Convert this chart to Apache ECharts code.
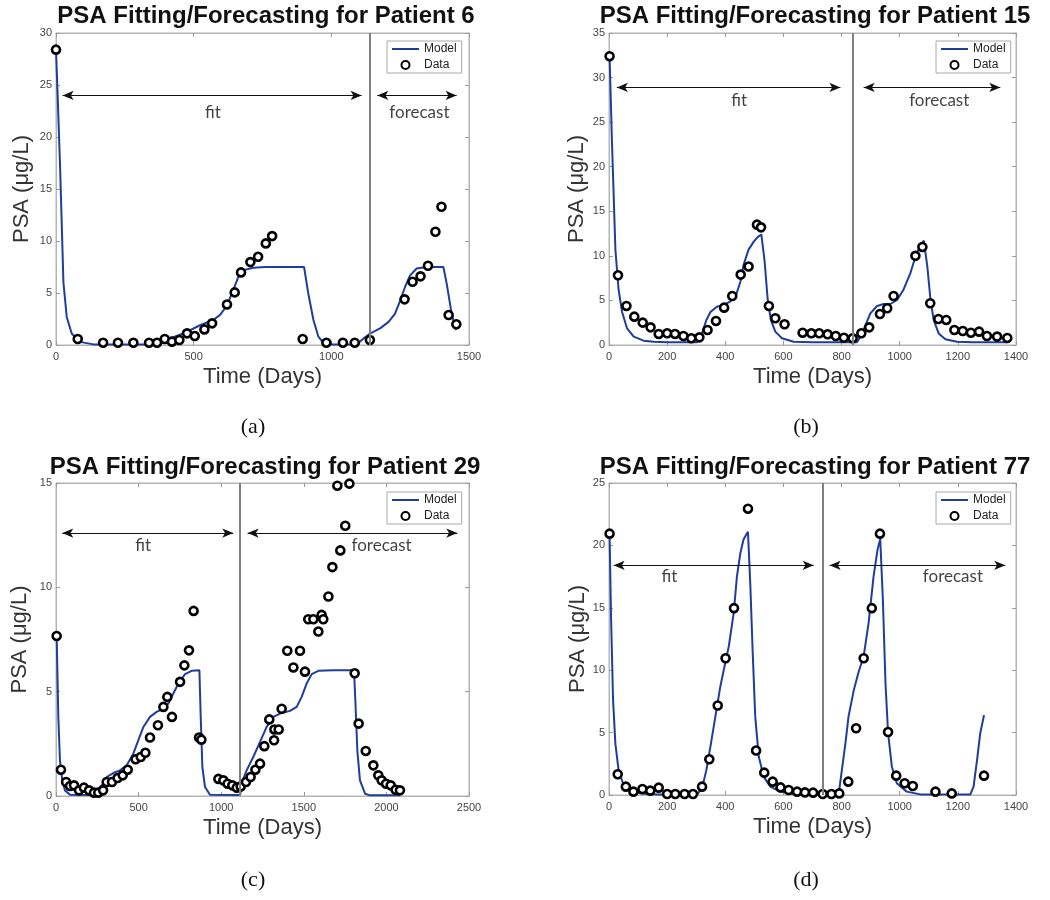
<!DOCTYPE html>
<html>
<head>
<meta charset="utf-8">
<script src="https://cdn.jsdelivr.net/npm/echarts@6/dist/echarts.min.js"></script>
<style>
html,body{margin:0;padding:0;background:#fff;}
#chart{width:1050px;height:900px;}
</style>
</head>
<body>
<div id="chart"></div>
<script>
// ---------------- DATA ----------------
const patientIds = [6, 15, 29, 77];
const panelLetters = ['(a)', '(b)', '(c)', '(d)'];

// x-axis (days) and y-axis (PSA) ranges and tick steps
const xMax = [1500, 1400, 2500, 1400];
const xStep = [500, 200, 500, 200];
const yMax = [30, 35, 15, 25];
const yStep = [5, 5, 5, 5];

// Patient 6
const p6DataDays = [0, 79, 171, 225, 281, 338, 367, 395, 421, 448, 476, 504, 539, 567, 621, 649, 672, 706, 734, 762, 785, 896, 982, 1042, 1085, 1140, 1266, 1295, 1324, 1351, 1378, 1400, 1426, 1454];
const p6DataPSA  = [28.4, 0.58, 0.22, 0.22, 0.22, 0.22, 0.22, 0.58, 0.32, 0.48, 1.12, 0.86, 1.5, 2.08, 3.9, 5.06, 6.98, 7.97, 8.48, 9.77, 10.47, 0.58, 0.22, 0.22, 0.22, 0.48, 4.39, 6.08, 6.6, 7.62, 10.89, 13.29, 2.88, 1.99];
const p6ModelDays = [0, 6, 15, 27, 39, 57, 87, 136, 341, 402, 462, 523, 571, 596, 621, 644, 663, 681, 717, 760, 901, 916, 935, 953, 971, 1000, 1092, 1116, 1140, 1177, 1207, 1231, 1249, 1268, 1286, 1310, 1346, 1407, 1419, 1437, 1453];
const p6ModelPSA  = [28.4, 24, 17, 6, 2.7, 1.1, 0.3, 0.06, 0.05, 0.5, 1.1, 1.9, 2.4, 2.9, 3.8, 5.3, 6.6, 7.2, 7.43, 7.5, 7.5, 5, 2.4, 0.8, 0.2, 0.05, 0.05, 0.6, 1.1, 1.6, 2.2, 3.0, 4.2, 5.6, 6.7, 7.36, 7.5, 7.5, 5.9, 3.0, 1.44];

// Patient 15
const p15DataDays = [2, 31, 60, 87, 116, 143, 171, 200, 227, 256, 283, 311, 339, 368, 396, 424, 453, 480, 509, 523, 550, 572, 604, 666, 696, 723, 752, 780, 808, 838, 868, 895, 932, 957, 979, 1054, 1078, 1105, 1133, 1160, 1188, 1217, 1245, 1273, 1300, 1335, 1370];
const p15DataPSA  = [32.4, 7.82, 4.38, 3.18, 2.51, 1.98, 1.24, 1.31, 1.24, 1.01, 0.75, 0.86, 1.68, 2.7, 4.19, 5.5, 7.9, 8.8, 13.5, 13.2, 4.38, 3.0, 2.32, 1.38, 1.31, 1.31, 1.2, 1.01, 0.82, 0.75, 1.31, 1.98, 3.48, 4.12, 5.5, 10.0, 11.0, 4.68, 2.92, 2.81, 1.68, 1.57, 1.38, 1.5, 1.01, 0.94, 0.79];
const p15ModelDays = [2, 10, 22, 33, 45, 62, 85, 119, 154, 200, 303, 320, 335, 349, 371, 394, 417, 435, 452, 463, 480, 498, 511, 524, 535, 546, 557, 572, 595, 635, 700, 853, 865, 882, 899, 922, 945, 968, 991, 1013, 1036, 1054, 1071, 1083, 1095, 1106, 1117, 1134, 1157, 1197, 1250, 1370];
const p15ModelPSA  = [32.4, 23, 10.7, 6.2, 3.7, 1.87, 0.94, 0.49, 0.37, 0.3, 0.3, 1.3, 2.8, 3.7, 4.3, 4.5, 4.87, 5.4, 7.1, 9.0, 10.7, 11.6, 12.1, 12.4, 9.5, 5.05, 2.8, 1.5, 0.75, 0.37, 0.3, 0.3, 0.94, 2.2, 3.55, 4.38, 4.6, 4.6, 5.05, 6.2, 8.0, 9.9, 11.2, 11.7, 8.8, 5.05, 2.8, 1.3, 0.64, 0.37, 0.3, 0.3];

// Patient 29
const p29DataDays = [4, 30, 61, 85, 109, 139, 169, 200, 230, 256, 285, 307, 339, 373, 404, 434, 482, 513, 541, 569, 617, 650, 674, 702, 751, 777, 805, 833, 866, 880, 983, 1013, 1039, 1067, 1094, 1118, 1150, 1178, 1207, 1235, 1261, 1291, 1320, 1322, 1348, 1366, 1400, 1437, 1477, 1507, 1527, 1558, 1588, 1608, 1618, 1649, 1673, 1703, 1721, 1751, 1776, 1808, 1832, 1875, 1921, 1951, 1971, 1998, 2026, 2056, 2082];
const p29DataPSA  = [7.67, 1.26, 0.67, 0.48, 0.51, 0.27, 0.4, 0.27, 0.16, 0.16, 0.27, 0.67, 0.67, 0.86, 0.99, 1.26, 1.76, 1.87, 2.07, 2.8, 3.39, 4.27, 4.75, 3.79, 5.47, 6.26, 6.98, 8.87, 2.8, 2.7, 0.82, 0.75, 0.59, 0.51, 0.4, 0.46, 0.67, 0.91, 1.26, 1.55, 2.39, 3.67, 2.67, 3.19, 3.19, 4.18, 6.96, 6.16, 6.96, 5.96, 8.47, 8.47, 7.88, 8.68, 8.47, 9.56, 10.97, 14.87, 11.77, 12.95, 14.97, 5.88, 3.47, 2.16, 1.47, 0.99, 0.75, 0.59, 0.51, 0.3, 0.27];
const p29ModelDays = [4, 14, 24, 38, 54, 85, 206, 246, 287, 307, 347, 387, 428, 468, 498, 529, 569, 609, 650, 680, 710, 741, 781, 821, 868, 876, 886, 902, 932, 1114, 1130, 1154, 1194, 1235, 1275, 1316, 1356, 1416, 1457, 1487, 1517, 1548, 1588, 1679, 1804, 1812, 1824, 1840, 1871, 1901, 2082];
const p29ModelPSA  = [7.67, 3.8, 1.7, 0.75, 0.27, 0.06, 0.05, 0.27, 0.6, 0.91, 1.1, 1.23, 1.47, 2.03, 2.67, 3.31, 3.79, 4.03, 4.19, 4.43, 4.91, 5.39, 5.84, 6.0, 6.03, 3.8, 1.39, 0.43, 0.06, 0.05, 0.75, 1.23, 1.87, 2.59, 3.31, 3.79, 3.95, 4.08, 4.27, 4.75, 5.39, 5.84, 6.0, 6.03, 6.03, 4.59, 2.19, 0.75, 0.11, 0.03, 0.03];

// Patient 77
const p77DataDays = [2, 30, 58, 84, 115, 142, 171, 200, 228, 260, 289, 320, 345, 374, 401, 430, 478, 506, 534, 563, 590, 618, 647, 674, 702, 735, 765, 792, 823, 850, 876, 904, 932, 960, 988, 1017, 1045, 1123, 1179, 1290];
const p77DataPSA  = [20.94, 1.66, 0.67, 0.27, 0.48, 0.35, 0.59, 0.08, 0.08, 0.08, 0.08, 0.67, 2.86, 7.17, 10.96, 14.97, 22.94, 3.56, 1.79, 1.07, 0.61, 0.4, 0.27, 0.21, 0.19, 0.08, 0.08, 0.13, 1.07, 5.35, 10.96, 14.97, 20.94, 5.05, 1.55, 0.94, 0.72, 0.27, 0.13, 1.55];
const p77ModelDays = [2, 7, 14, 22, 33, 50, 73, 108, 160, 303, 320, 335, 349, 366, 383, 400, 412, 429, 440, 452, 463, 478, 486, 494, 503, 515, 532, 555, 589, 635, 790, 801, 813, 824, 842, 859, 876, 893, 910, 924, 933, 942, 951, 960, 973, 990, 1024, 1071, 1243, 1254, 1266, 1277, 1290];
const p77ModelPSA  = [20.9, 14.3, 7.6, 4.1, 2.0, 0.8, 0.35, 0.13, 0.05, 0.05, 0.53, 2.0, 3.9, 6.3, 8.7, 10.6, 11.9, 14.6, 17.5, 19.4, 20.5, 21.1, 16.9, 11.6, 6.3, 3.1, 1.47, 0.67, 0.27, 0.08, 0.05, 2.0, 4.1, 6.3, 8.4, 9.9, 11.1, 13.8, 17.5, 19.7, 20.5, 15.7, 9.0, 4.95, 2.27, 0.94, 0.27, 0.05, 0.05, 0.67, 2.8, 4.95, 6.4];

// fit / forecast split day and annotation arrows [startDay, endDay, PSA level]
const splitDays = [1140, 838, 1112, 736];
const fitArrows = [[24, 1110, 24], [27, 796, 28.9], [38, 1073, 12.6], [16, 704, 18.4]];
const forecastArrows = [[1167, 1455, 24], [876, 1346, 28.9], [1160, 2429, 12.6], [759, 1363, 18.4]];
// annotation labels [day, PSA level]
const fitLabels = [[570, 22.4], [448, 27.4], [528, 12.0], [208, 17.5]];
const forecastLabels = [[1320, 22.4], [1136, 27.4], [1971, 12.0], [1183, 17.5]];

const dataDays = [p6DataDays, p15DataDays, p29DataDays, p77DataDays];
const dataPSA = [p6DataPSA, p15DataPSA, p29DataPSA, p77DataPSA];
const modelDays = [p6ModelDays, p15ModelDays, p29ModelDays, p77ModelDays];
const modelPSA = [p6ModelPSA, p15ModelPSA, p29ModelPSA, p77ModelPSA];

// ---------------- LAYOUT / STYLE ----------------
const FONT = '"Liberation Sans", Arial, Helvetica, sans-serif';
const grids = [
  {left: 56, top: 33, width: 413, height: 312},
  {left: 609, top: 33, width: 407, height: 312},
  {left: 56, top: 483, width: 413, height: 313},
  {left: 609, top: 483, width: 407, height: 312}
];
const titlePos = [[266, 16], [815, 16], [265, 467], [815, 467]];
const letterPos = [[253, 427], [806, 427], [253, 880], [806, 880]];
const legendPos = [[387, 41], [936, 41], [387, 492], [936, 492]];
const yNameGap = [23, 21, 25, 20];

const MODEL_COLOR = '#1f3d9c';
const AXIS_COLOR = '#b4b4b4';
const LABEL_COLOR = '#444';

const zip = (a, b) => a.map((v, i) => [v, b[i]]);

const xAxes = [], yAxes = [], series = [], legends = [], graphics = [];

for (let i = 0; i < 4; i++) {
  const baseX = {
    type: 'value', gridIndex: i, min: 0, max: xMax[i], interval: xStep[i],
    splitLine: {show: false},
    axisTick: {show: true, inside: true, length: 4, lineStyle: {color: '#999'}},
    axisLine: {show: true, onZero: false, lineStyle: {color: AXIS_COLOR, width: 1}}
  };
  xAxes.push(Object.assign({}, baseX, {
    position: 'bottom',
    axisLabel: {show: true, margin: 6, color: LABEL_COLOR, fontSize: 11, fontFamily: FONT, formatter: v => String(v)},
    name: 'Time (Days)', nameLocation: 'middle', nameGap: 21,
    nameTextStyle: {fontSize: 22, color: '#333', fontFamily: FONT}
  }));
  xAxes.push(Object.assign({}, baseX, {position: 'top', axisLabel: {show: false}}));

  const baseY = {
    type: 'value', gridIndex: i, min: 0, max: yMax[i], interval: yStep[i],
    splitLine: {show: false},
    axisTick: {show: true, inside: true, length: 4, lineStyle: {color: '#999'}},
    axisLine: {show: true, onZero: false, lineStyle: {color: AXIS_COLOR, width: 1}}
  };
  yAxes.push(Object.assign({}, baseY, {
    position: 'left',
    axisLabel: {show: true, margin: 4, color: LABEL_COLOR, fontSize: 11, fontFamily: FONT, formatter: v => String(v)},
    name: 'PSA (μg/L)', nameLocation: 'middle', nameGap: yNameGap[i],
    nameTextStyle: {fontSize: 22, color: '#333', fontFamily: FONT}
  }));
  yAxes.push(Object.assign({}, baseY, {position: 'right', axisLabel: {show: false}}));

  const arrowEnd = {symbol: 'arrow', symbolSize: [7, 11]};
  series.push({
    type: 'line', name: 'Model', xAxisIndex: 2 * i, yAxisIndex: 2 * i,
    data: zip(modelDays[i], modelPSA[i]),
    symbol: 'none', showSymbol: false, smooth: false,
    lineStyle: {color: MODEL_COLOR, width: 2},
    itemStyle: {color: MODEL_COLOR},
    z: 3, silent: true,
    markLine: {
      silent: true, animation: false,
      label: {show: false},
      emphasis: {disabled: true},
      data: [
        [{coord: [splitDays[i], 0], symbol: 'none', lineStyle: {color: '#7f7f7f', width: 2, type: 'solid'}},
         {coord: [splitDays[i], yMax[i]], symbol: 'none'}],
        [Object.assign({coord: [fitArrows[i][0], fitArrows[i][2]], lineStyle: {color: '#111', width: 1.2, type: 'solid'}}, arrowEnd),
         Object.assign({coord: [fitArrows[i][1], fitArrows[i][2]]}, arrowEnd)],
        [Object.assign({coord: [forecastArrows[i][0], forecastArrows[i][2]], lineStyle: {color: '#111', width: 1.2, type: 'solid'}}, arrowEnd),
         Object.assign({coord: [forecastArrows[i][1], forecastArrows[i][2]]}, arrowEnd)]
      ]
    }
  });
  series.push({
    type: 'scatter', name: 'Data', xAxisIndex: 2 * i, yAxisIndex: 2 * i,
    data: zip(dataDays[i], dataPSA[i]),
    symbol: 'circle', symbolSize: 8,
    itemStyle: {color: '#fff', borderColor: '#000', borderWidth: 2.6, opacity: 1},
    z: 4, silent: true
  });
  series.push({
    type: 'scatter', name: 'labels' + i, xAxisIndex: 2 * i, yAxisIndex: 2 * i,
    data: [{name: 'fit', value: fitLabels[i]}, {name: 'forecast', value: forecastLabels[i]}],
    symbolSize: 0, silent: true, z: 5,
    label: {show: true, position: 'inside', formatter: p => p.name,
      fontSize: 17, color: '#111', fontFamily: 'Lato, "Liberation Sans", sans-serif'}
  });

  legends.push({
    left: legendPos[i][0], top: legendPos[i][1], orient: 'vertical',
    data: [
      {name: 'Model', icon: 'path://M0,0 L27,0 L27,2 L0,2 Z'},
      {name: 'Data'}
    ],
    selectedMode: false,
    itemWidth: 27, itemHeight: 8, itemGap: 4,
    padding: [2, 5, 2, 5],
    borderColor: '#a8a8a8', borderWidth: 1, backgroundColor: '#fff',
    textStyle: {fontSize: 12, lineHeight: 12, color: '#222', fontFamily: FONT}
  });

  graphics.push({
    type: 'text', x: titlePos[i][0], y: titlePos[i][1],
    style: {text: 'PSA Fitting/Forecasting for Patient ' + patientIds[i],
      font: 'bold 24px ' + FONT, fill: '#111',
      align: 'center', verticalAlign: 'middle', textAlign: 'center', textVerticalAlign: 'middle'}
  });
  graphics.push({
    type: 'text', x: letterPos[i][0], y: letterPos[i][1],
    style: {text: panelLetters[i],
      font: '22px "Liberation Serif", "Times New Roman", serif', fill: '#111',
      align: 'center', verticalAlign: 'middle', textAlign: 'center', textVerticalAlign: 'middle'}
  });
}

const chart = echarts.init(document.getElementById('chart'), null, {renderer: 'canvas'});
chart.setOption({
  backgroundColor: '#fff',
  animation: false,
  grid: grids.map(g => Object.assign({show: true, borderColor: AXIS_COLOR, borderWidth: 1, backgroundColor: 'transparent'}, g)),
  xAxis: xAxes,
  yAxis: yAxes,
  legend: legends,
  series: series,
  graphic: graphics
});
</script>
</body>
</html>
